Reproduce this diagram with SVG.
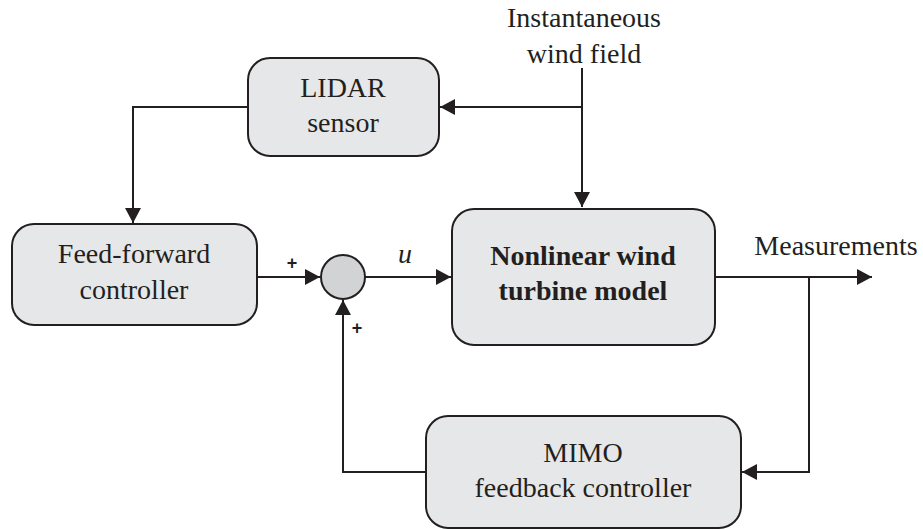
<svg xmlns="http://www.w3.org/2000/svg" width="923" height="529" viewBox="0 0 923 529">
<defs>
<marker id="arr" markerWidth="15" markerHeight="16" refX="15" refY="8" orient="auto" markerUnits="userSpaceOnUse">
<path d="M0,0 L15,8 L0,16 Z" fill="#231f20"/>
</marker>
<style>
.box{fill:#e6e7e8;stroke:#231f20;stroke-width:2}
.t{font-size:28px;fill:#231f20;text-anchor:middle}
.b{font-weight:bold}
.w{fill:none;stroke:#231f20;stroke-width:2}
.p{font-family:'Liberation Sans',sans-serif;font-size:18px;font-weight:bold;fill:#231f20;text-anchor:middle}
</style>
</defs>
<rect width="923" height="529" fill="#ffffff"/>
<g id="connectors">
<path class="w" d="M582,68 V207" marker-end="url(#arr)"/>
<path class="w" d="M582,107 H440" marker-end="url(#arr)"/>
<path class="w" d="M248,107 H133 V223" marker-end="url(#arr)"/>
<path class="w" d="M257,277 H320" marker-end="url(#arr)"/>
<path class="w" d="M365,277 H451" marker-end="url(#arr)"/>
<path class="w" d="M715,277 H872" marker-end="url(#arr)"/>
<path class="w" d="M809,277 V472 H742" marker-end="url(#arr)"/>
<path class="w" d="M426,472 H343 V300" marker-end="url(#arr)"/>
</g>
<g font-family="Liberation Serif, serif">
<g id="wind-field">
<text class="t" x="584" y="27">Instantaneous</text>
<text class="t" x="584" y="63">wind field</text>
</g>
<g id="lidar">
<rect class="box" x="248" y="58" width="191" height="98" rx="22"/>
<text class="t" x="343" y="97">LIDAR</text>
<text class="t" x="343" y="132">sensor</text>
</g>
<g id="feedforward">
<rect class="box" x="12" y="224" width="245" height="101" rx="22"/>
<text class="t" x="134" y="263">Feed-forward</text>
<text class="t" x="134" y="299">controller</text>
</g>
<g id="sum">
<circle cx="343" cy="277" r="22" fill="#d1d3d4" stroke="#231f20" stroke-width="2"/>
<text class="p" x="292" y="269">+</text>
<text class="p" x="357" y="334">+</text>
<text class="t" x="405" y="263" font-style="italic">u</text>
</g>
<g id="turbine">
<rect class="box" x="452" y="209" width="263" height="136" rx="22"/>
<text class="t b" x="583" y="265">Nonlinear wind</text>
<text class="t b" x="583" y="300">turbine model</text>
</g>
<g id="measurements">
<text class="t" x="836" y="255">Measurements</text>
</g>
<g id="mimo">
<rect class="box" x="426" y="416" width="315" height="112" rx="22"/>
<text class="t" x="583" y="462">MIMO</text>
<text class="t" x="583" y="497">feedback controller</text>
</g>
</g>
</svg>
